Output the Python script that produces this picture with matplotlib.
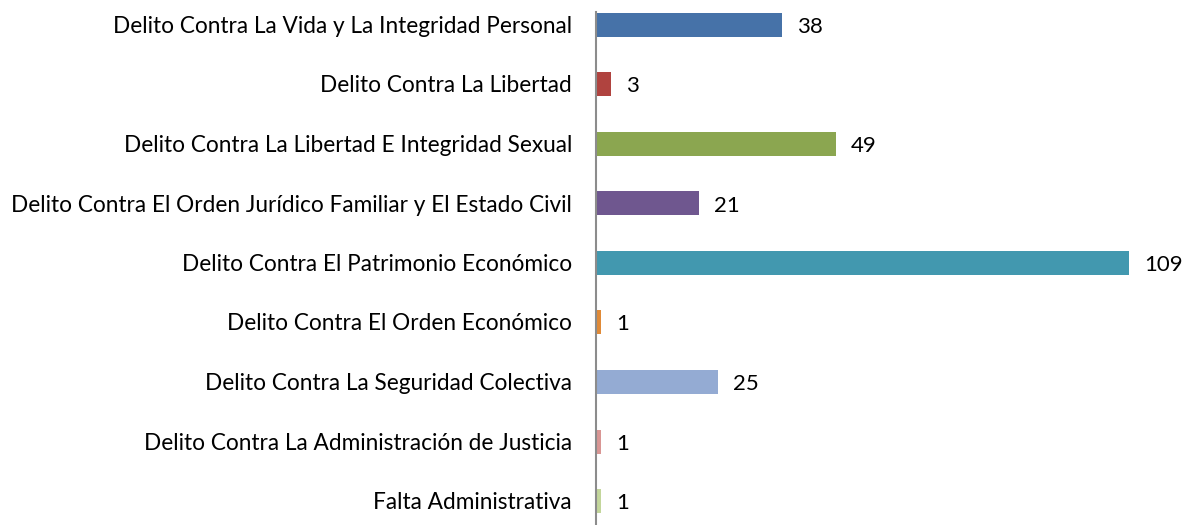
import matplotlib
matplotlib.use("Agg")
import matplotlib.pyplot as plt
import matplotlib.transforms as mtransforms

categories = [
    "Delito Contra La Vida y La Integridad Personal",
    "Delito Contra La Libertad",
    "Delito Contra La Libertad E Integridad Sexual",
    "Delito Contra El Orden Jurídico Familiar y El Estado Civil",
    "Delito Contra El Patrimonio Económico",
    "Delito Contra El Orden Económico",
    "Delito Contra La Seguridad Colectiva",
    "Delito Contra La Administración de Justicia",
    "Falta Administrativa",
]
values = [38, 3, 49, 21, 109, 1, 25, 1, 1]
colors = ["#4672A8", "#B0433F", "#8BA650", "#6F578F", "#4298AF",
          "#E08A37", "#94ABD3", "#D99694", "#C3D69B"]

W, H = 1185, 525
fig = plt.figure(figsize=(W / 100, H / 100), dpi=100)
left_px, top_px = 596, 12
ax = fig.add_axes([left_px / W, 0, 1 - left_px / W, (H - top_px) / H])

spacing = 59.5
first_center = 25
ylim_top = -(first_center - top_px) / spacing
ylim_bot = (H - first_center) / spacing
px_per_unit = 4.89
xmax = (W - left_px) / px_per_unit

ypos = list(range(len(categories)))
ax.barh(ypos, values, height=24 / spacing, color=colors)
ax.set_ylim(ylim_bot, ylim_top)
ax.set_xlim(0, xmax)

font = "Lato"
base_off = 8 / spacing
for y, v in zip(ypos, values):
    ax.text(v + 15 / px_per_unit, y + base_off, str(v), va="baseline", ha="left",
            fontsize=16, family=font, color="black")

label_trans = ax.get_yaxis_transform() + mtransforms.ScaledTranslation(
    -24 / 100, 0, fig.dpi_scale_trans)
for y, c in zip(ypos, categories):
    ax.text(0, y + base_off, c, transform=label_trans, va="baseline", ha="right",
            fontsize=16.3, family=font, color="black", clip_on=False)

ax.set_yticks([])
ax.set_xticks([])
for s in ["top", "right", "bottom"]:
    ax.spines[s].set_visible(False)
ax.spines["left"].set_color("#8C8C8C")
ax.spines["left"].set_linewidth(1.5)
ax.patch.set_alpha(0)

fig.savefig("out.png", dpi=100)
